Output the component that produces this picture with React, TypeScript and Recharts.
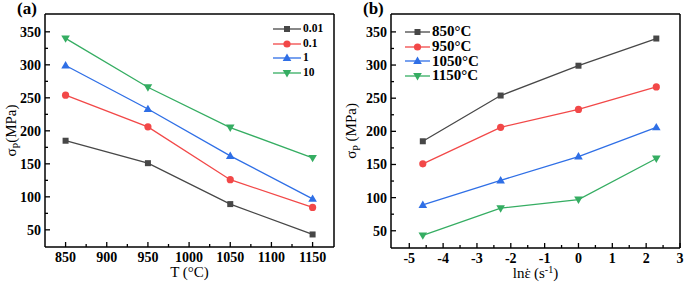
import { Legend, Line, LineChart, XAxis, YAxis } from 'recharts'

const SERIF = '"Liberation Serif", "Times New Roman", serif'

const temps = [850, 950, 1050, 1150]
const lnRates = [-4.6, -2.3, 0, 2.3]
const rateNames = ['0.01', '0.1', '1', '10']
const tempNames = ['850°C', '950°C', '1050°C', '1150°C']

// peak stress (MPa), one array per strain rate, values at 850/950/1050/1150 °C
const peakRate001 = [185, 151, 89, 43]
const peakRate01 = [254, 206, 126, 84]
const peakRate1 = [299, 233, 162, 97]
const peakRate10 = [340, 266, 205, 159]

// same points, one array per temperature, values at ln(rate) = -4.6/-2.3/0/2.3
const peak850 = [185, 254, 299, 340]
const peak950 = [151, 206, 233, 267]
const peak1050 = [89, 126, 162, 206]
const peak1150 = [43, 84, 97, 159]

const tempTicks = [850, 900, 950, 1000, 1050, 1100, 1150]
const tempMinor = [875, 925, 975, 1025, 1075, 1125]
const lnTicks = [-5, -4, -3, -2, -1, 0, 1, 2, 3]
const lnMinor = [-4.5, -3.5, -2.5, -1.5, -0.5, 0.5, 1.5, 2.5]
const stressTicks = [50, 100, 150, 200, 250, 300, 350]
const stressMinor = [75, 125, 175, 225, 275, 325]

const colors = ['#474747', '#f24848', '#2f6fe6', '#35ad62']
const shapes = ['square', 'circle', 'up', 'down']

const rateSeries = [peakRate001, peakRate01, peakRate1, peakRate10]
const tempSeries = [peak850, peak950, peak1050, peak1150]

const dataA = temps.map((t, i) => {
  const row: Record<string, number> = { x: t }
  rateSeries.forEach((s, k) => (row['s' + k] = s[i]))
  return row
})
const dataB = lnRates.map((r, i) => {
  const row: Record<string, number> = { x: r }
  tempSeries.forEach((s, k) => (row['s' + k] = s[i]))
  return row
})

const sortNum = (a: number[]) => [...a].sort((p, q) => p - q)

function Marker({ shape, cx, cy, color }: any) {
  if (cx == null || cy == null) return null
  if (shape === 'square') return <rect x={cx - 3} y={cy - 3} width={6} height={6} fill={color} />
  if (shape === 'circle') return <circle cx={cx} cy={cy} r={3.6} fill={color} />
  const s = shape === 'up' ? 1 : -1
  const pts = `${cx},${cy - 4.4 * s} ${cx - 4.3},${cy + 3 * s} ${cx + 4.3},${cy + 3 * s}`
  return <polygon points={pts} fill={color} />
}

function BottomTick({ x, y, payload, majors }: any) {
  const major = majors.includes(payload.value)
  return (
    <g>
      <line x1={x} y1={y} x2={x} y2={y - (major ? 5 : 3)} stroke="#000" strokeWidth={1.3} />
      {major && (
        <text x={x} y={y + 15} textAnchor="middle" fontFamily={SERIF} fontWeight="bold" fontSize={14} fill="#000">
          {payload.value}
        </text>
      )}
    </g>
  )
}

function LeftTick({ x, y, payload, majors }: any) {
  const major = majors.includes(payload.value)
  return (
    <g>
      <line x1={x} y1={y} x2={x + (major ? 5 : 3)} y2={y} stroke="#000" strokeWidth={1.3} />
      {major && (
        <text x={x - 4} y={y + 5} textAnchor="end" fontFamily={SERIF} fontWeight="bold" fontSize={14} fill="#000">
          {payload.value}
        </text>
      )}
    </g>
  )
}

function YTitle({ viewBox, gap }: any) {
  const cx = viewBox.x + 11
  const cy = viewBox.y + viewBox.height / 2
  return (
    <text
      x={cx}
      y={cy}
      transform={`rotate(-90 ${cx} ${cy})`}
      textAnchor="middle"
      dominantBaseline="central"
      fontFamily={SERIF}
      fontSize={15}
      fill="#000"
    >
      σ<tspan fontSize={10} baselineShift="sub">P</tspan>
      <tspan>{gap ? ' (MPa)' : '(MPa)'}</tspan>
    </text>
  )
}

function XTitle({ viewBox, kind }: any) {
  const cx = viewBox.x + viewBox.width / 2
  const cy = viewBox.y + 30
  return (
    <text x={cx} y={cy} textAnchor="middle" fontFamily={SERIF} fontSize={15} fill="#000">
      {kind === 'T' ? (
        'T (°C)'
      ) : (
        <>
          lnε
          <tspan dx={-5} dy={-8} fontSize={13}>.</tspan>
          <tspan dx={5} dy={8}>(s</tspan>
          <tspan fontSize={10} baselineShift="super">-1</tspan>
          <tspan>)</tspan>
        </>
      )}
    </text>
  )
}

function LegendRows({ names, fontSize, lineLen }: any) {
  return (
    <div>
      {names.map((n: string, i: number) => (
        <div key={n} style={{ display: 'flex', alignItems: 'center', height: 14.6 }}>
          <svg width={lineLen + 2} height={14}>
            <line x1={0} y1={7} x2={lineLen} y2={7} stroke={colors[i]} strokeWidth={1.3} />
            <Marker shape={shapes[i]} cx={lineLen / 2} cy={7} color={colors[i]} />
          </svg>
          <span style={{ fontFamily: SERIF, fontWeight: 'bold', fontSize, lineHeight: 1, color: '#000' }}>{n}</span>
        </div>
      ))}
    </div>
  )
}

function Panel({ data, names, xDomain, xMajor, xMinor, xKind, legendPos, legendFont, lineLen, yWidth, xHeight, right, yGap }: any) {
  const yDomain = [24, 377]
  return (
    <LineChart width={345} height={282} data={data} margin={{ top: 13, right, left: 0, bottom: 0 }}>
      <XAxis
        dataKey="x"
        type="number"
        domain={xDomain}
        ticks={sortNum([...xMajor, ...xMinor])}
        interval={0}
        height={xHeight}
        tickSize={0}
        tickMargin={0}
        tickLine={false}
        axisLine={{ stroke: '#000', strokeWidth: 1.5 }}
        tick={<BottomTick majors={xMajor} />}
        label={<XTitle kind={xKind} />}
      />
      <XAxis
        xAxisId="top"
        orientation="top"
        type="number"
        domain={xDomain}
        ticks={xMajor}
        height={1}
        tick={false}
        tickLine={false}
        axisLine={{ stroke: '#000', strokeWidth: 1.5 }}
      />
      <YAxis
        type="number"
        domain={yDomain}
        ticks={sortNum([...stressTicks, ...stressMinor])}
        interval={0}
        width={yWidth}
        tickSize={0}
        tickMargin={0}
        tickLine={false}
        axisLine={{ stroke: '#000', strokeWidth: 1.5 }}
        tick={<LeftTick majors={stressTicks} />}
        label={<YTitle gap={yGap} />}
      />
      <YAxis
        yAxisId="right"
        orientation="right"
        type="number"
        domain={yDomain}
        ticks={stressTicks}
        width={1}
        tick={false}
        tickLine={false}
        axisLine={{ stroke: '#000', strokeWidth: 1.5 }}
      />
      <Legend
        layout="vertical"
        align="center"
        verticalAlign="middle"
        wrapperStyle={{ position: 'absolute', left: legendPos[0], top: legendPos[1], width: 'auto', margin: 0 }}
        content={<LegendRows names={names} fontSize={legendFont} lineLen={lineLen} />}
      />
      {names.map((n: string, k: number) => (
        <Line
          key={n}
          dataKey={'s' + k}
          name={n}
          stroke={colors[k]}
          strokeWidth={1.3}
          isAnimationActive={false}
          dot={(p: any) => <Marker key={`${n}-${p.index}`} shape={shapes[k]} cx={p.cx} cy={p.cy} color={colors[k]} />}
          activeDot={false}
        />
      ))}
    </LineChart>
  )
}

export default function App() {
  return (
    <div style={{ position: 'fixed', left: 0, top: 0, width: 685, height: 282, background: '#fff', overflow: 'hidden' }}>
      <div style={{ position: 'absolute', left: 0, top: 0 }}>
        <Panel
          data={dataA}
          names={rateNames}
          xDomain={[825, 1176]}
          xMajor={tempTicks}
          xMinor={tempMinor}
          xKind="T"
          legendPos={[273, 21.7]}
          legendFont={11.5}
          lineLen={28}
          yWidth={45}
          xHeight={35}
          right={10}
          yGap={false}
        />
      </div>
      <div style={{ position: 'absolute', left: 340, top: 0 }}>
        <Panel
          data={dataB}
          names={tempNames}
          xDomain={[-5.54, 3]}
          xMajor={lnTicks}
          xMinor={lnMinor}
          xKind="ln"
          legendPos={[65, 24.7]}
          legendFont={15}
          lineLen={25}
          yWidth={51}
          xHeight={34}
          right={4}
          yGap={true}
        />
      </div>
      <div style={{ position: 'absolute', left: 17, top: 0, fontFamily: SERIF, fontWeight: 'bold', fontSize: 17, lineHeight: 1 }}>(a)</div>
      <div style={{ position: 'absolute', left: 363, top: 0, fontFamily: SERIF, fontWeight: 'bold', fontSize: 17, lineHeight: 1 }}>(b)</div>
    </div>
  )
}
